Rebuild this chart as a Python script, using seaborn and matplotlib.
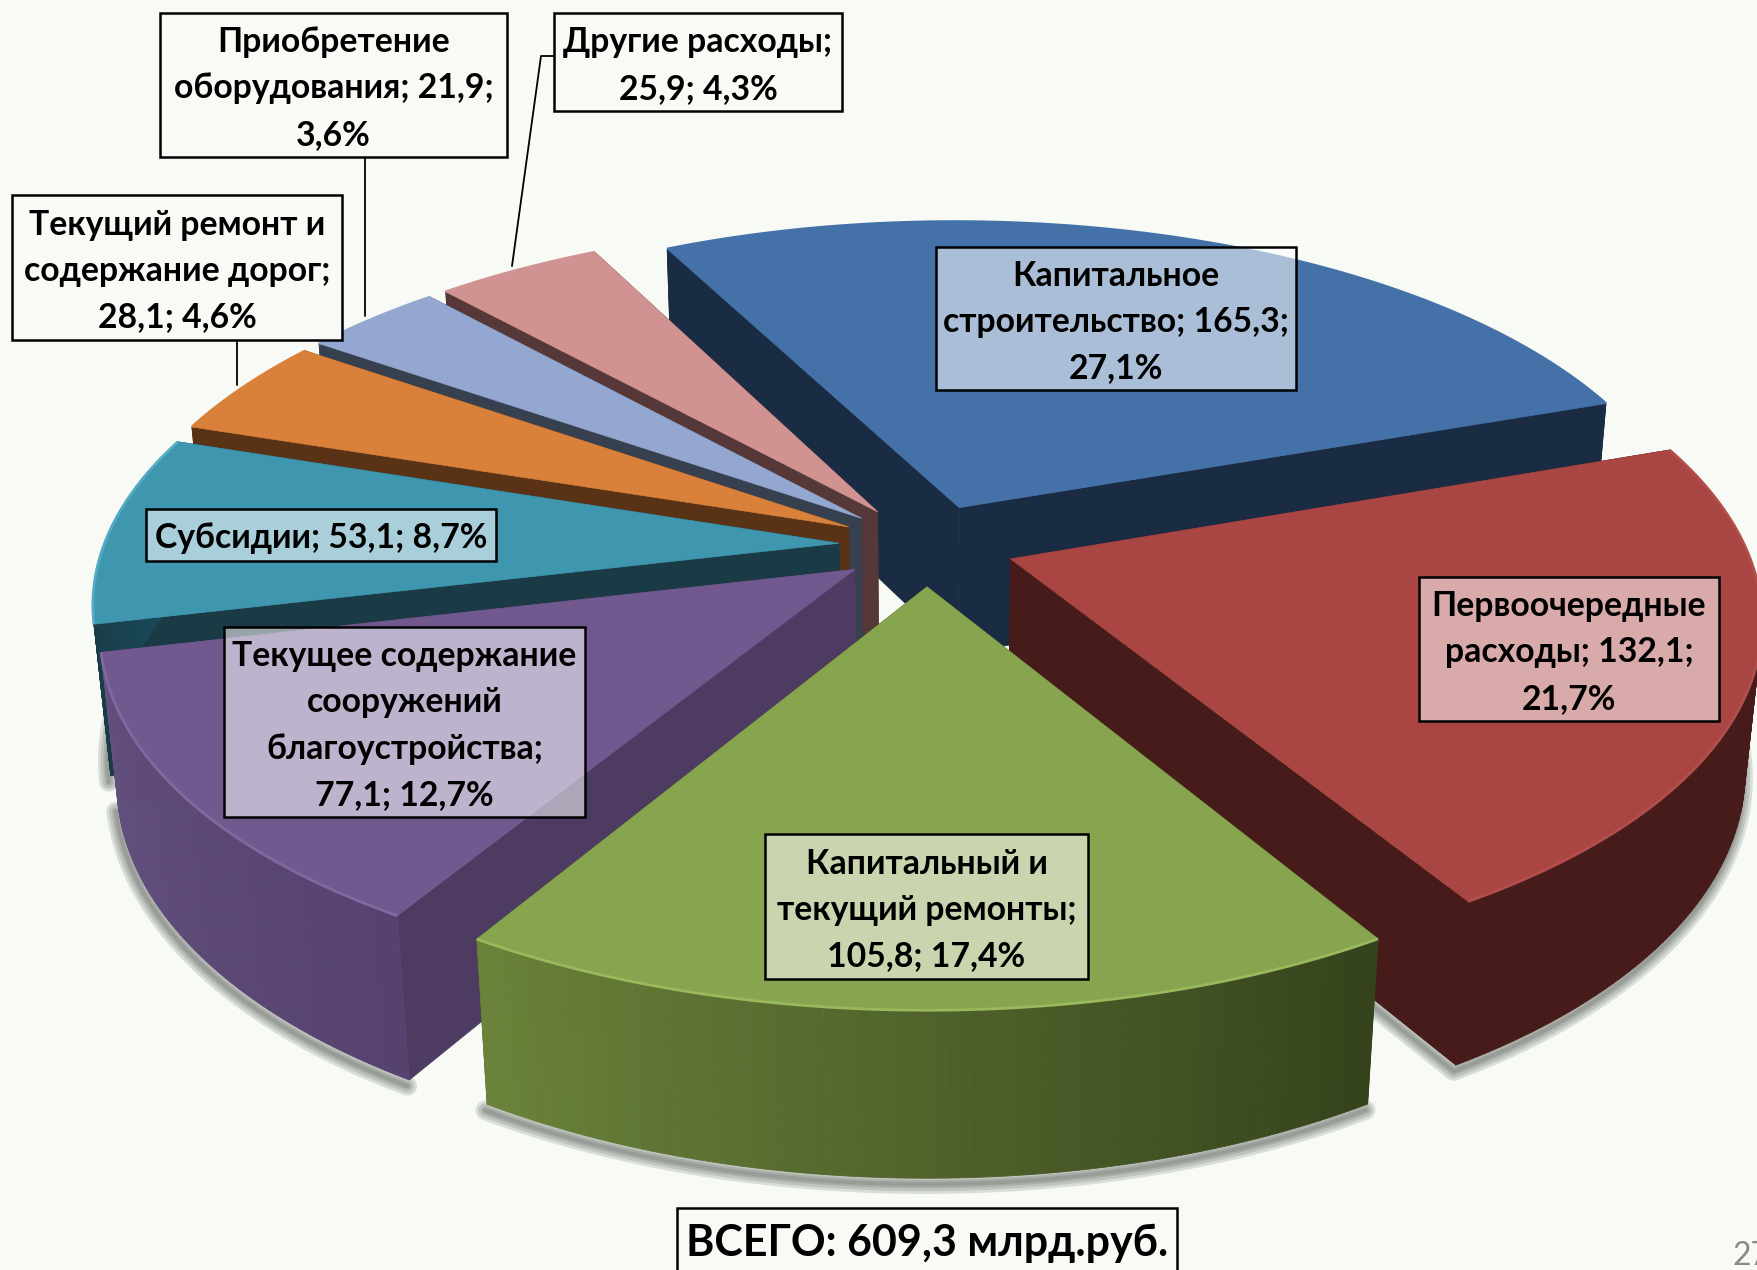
import numpy as np
import matplotlib
matplotlib.use('Agg')
import matplotlib.pyplot as plt
from matplotlib.patches import Rectangle
import seaborn as sns

# data
categorias = ['Капитальное строительство', 'Первоочередные расходы', 'Капитальный и текущий ремонты',
              'Текущее содержание сооружений благоустройства', 'Субсидии',
              'Текущий ремонт и содержание дорог', 'Приобретение оборудования', 'Другие расходы']
valores = [165.3, 132.1, 105.8, 77.1, 53.1, 28.1, 21.9, 25.9]
rotulos = ['Капитальное\nстроительство; 165,3;\n27,1%',
           'Первоочередные\nрасходы; 132,1;\n21,7%',
           'Капитальный и\nтекущий ремонты;\n105,8; 17,4%',
           'Текущее содержание\nсооружений\nблагоустройства;\n77,1; 12,7%',
           'Субсидии; 53,1; 8,7%',
           'Текущий ремонт и\nсодержание дорог;\n28,1; 4,6%',
           'Приобретение\nоборудования; 21,9;\n3,6%',
           'Другие расходы;\n25,9; 4,3%']
total_texto = 'ВСЕГО: 609,3 млрд.руб.'

# cores: topo, parede radial, parede externa (inicio -> fim no sentido horario)
cor_topo = ['#4472a8', '#a94543', '#87a44e', '#71588f', '#3f96af', '#d9813a', '#93a7d0', '#d19392']
cor_parede = ['#1a2c44', '#461b19', '#35431c', '#4d3b62', '#1a3a45', '#5a3216', '#37404f', '#573838']
cor_arco = [('#1a2c44', '#1a2c44'), ('#461b19', '#461b19'), ('#35431c', '#6b823a'),
            ('#55426e', '#63507e'), ('#1a3a45', '#1a4c5c'), ('#5a3216', '#5a3216'),
            ('#37404f', '#37404f'), ('#573838', '#573838')]
cor_brilho = ['#4472a8', '#b24f4d', '#9ab85c', '#8069a0', '#55aac4', '#d9813a', '#93a7d0', '#d19392']

# caixas: x0, y0, x1, y1 em pixels, mesma ordem de rotulos
caixas = [(936, 247, 1296, 390), (1419, 577, 1719, 721), (765, 834, 1088, 979),
          (224, 627, 585, 817), (146, 509, 496, 561), (12, 195, 342, 340),
          (160, 13, 507, 157), (554, 13, 842, 111)]
caixa_alpha = [0.55, 0.55, 0.55, 0.55, 0.55, 1, 1, 1]

# geometria da perspectiva
CX, CY = 927, 545
R = 735
KY = 342
HZ = 151
D = 6.34
ZA = 0.127
EXPLODE = 0.12
FONTE = ['Lato', 'Open Sans', 'DejaVu Sans']
FUNDO = '#f8fbf5'


def projetar(x, y, z):
    s = D / (D + y + z * ZA)
    return CX + R * x * s, CY - (KY * y - HZ * z) * s


sns.set_theme(style='white')
plt.rcParams['font.family'] = FONTE

fig = plt.figure(figsize=(17.58, 12.7), dpi=100, facecolor=FUNDO)
ax = fig.add_axes([0, 0, 1, 1])
ax.set_xlim(0, 1758)
ax.set_ylim(1270, 0)
ax.axis('off')

angulos = 360 * np.cumsum(valores) / np.sum(valores)
inicio = 117.0
fatias = []
for i in range(len(valores)):
    a1 = inicio - (angulos[i - 1] if i > 0 else 0)
    a2 = inicio - angulos[i]
    meio = np.radians((a1 + a2) / 2)
    ox = EXPLODE * np.cos(meio)
    oy = EXPLODE * np.sin(meio)
    th = np.radians(np.linspace(a1, a2, 80))
    fatias.append((ox, oy, th))

# sombra desfocada embaixo das paredes
for i in [1, 2, 3, 4]:
    ox, oy, th = fatias[i]
    bx, by = projetar(ox + np.cos(th), oy + np.sin(th), 1)
    ax_, ay_ = projetar(ox, oy, 1)
    xs = np.concatenate([bx, [ax_]]) if i == 1 else bx
    ys = np.concatenate([by, [ay_]]) if i == 1 else by
    for lw in [14, 10, 6, 3]:
        ax.plot(xs - 2, ys + 6, color='#454a43', alpha=0.17, lw=lw, solid_capstyle='round', zorder=1)

# ordem de pintura: de tras para frente
ordem = [0, 7, 6, 5, 4, 3, 1, 2]
z = 2
for i in ordem:
    ox, oy, th = fatias[i]
    arco_x = ox + np.cos(th)
    arco_y = oy + np.sin(th)
    tx, ty = projetar(arco_x, arco_y, 0)
    bx, by = projetar(arco_x, arco_y, 1)
    ax0, ay0 = projetar(ox, oy, 0)
    ax1, ay1 = projetar(ox, oy, 1)

    # paredes radiais
    ax.fill([ax0, tx[0], bx[0], ax1], [ay0, ty[0], by[0], ay1], color=cor_parede[i], lw=0.5, zorder=z)
    ax.fill([ax0, tx[-1], bx[-1], ax1], [ay0, ty[-1], by[-1], ay1], color=cor_parede[i], lw=0.5, zorder=z)

    # parede externa com gradiente
    paleta = sns.blend_palette([cor_arco[i][0], cor_arco[i][1]], len(th) - 1)
    for j in range(len(th) - 1):
        ax.fill([tx[j], tx[j + 1], bx[j + 1], bx[j]], [ty[j], ty[j + 1], by[j + 1], by[j]],
                color=paleta[j], lw=0.6, zorder=z)

    # topo
    ax.fill(np.concatenate([[ax0], tx]), np.concatenate([[ay0], ty]), color=cor_topo[i], lw=0.5, zorder=z)
    ax.plot(tx, ty, color=cor_brilho[i], lw=2, zorder=z, solid_capstyle='butt')
    z += 1

# linhas de chamada
ax.plot([554, 541, 512], [56, 56, 266], color='black', lw=1.3, zorder=20)
ax.plot([365, 365], [157, 316], color='black', lw=1.3, zorder=20)
ax.plot([237, 237], [340, 385], color='black', lw=1.3, zorder=20)

# caixas de texto
for rot, cx_, al in zip(rotulos, caixas, caixa_alpha):
    x0, y0, x1, y1 = cx_
    ax.add_patch(Rectangle((x0, y0), x1 - x0, y1 - y0, facecolor='white' if al < 1 else FUNDO,
                           alpha=al, edgecolor='none', zorder=21))
    ax.add_patch(Rectangle((x0, y0), x1 - x0, y1 - y0, fill=False, edgecolor='black', lw=1.8, zorder=22))
    ax.text((x0 + x1) / 2, (y0 + y1) / 2 + 3.5, rot, ha='center', va='center', fontsize=24.3, weight='bold',
            linespacing=1.55, color='black', zorder=23)

ax.add_patch(Rectangle((677, 1208), 500, 80, facecolor=FUNDO, edgecolor='black', lw=1.8, zorder=22))
ax.text(927, 1243, total_texto, ha='center', va='center', fontsize=31, weight='bold', color='black', zorder=23)
ax.text(1733, 1256, '27', ha='left', va='center', fontsize=23, color='#8a8a8a', zorder=23)

fig.savefig('out.png', dpi=100, facecolor=FUNDO)
plt.close(fig)
